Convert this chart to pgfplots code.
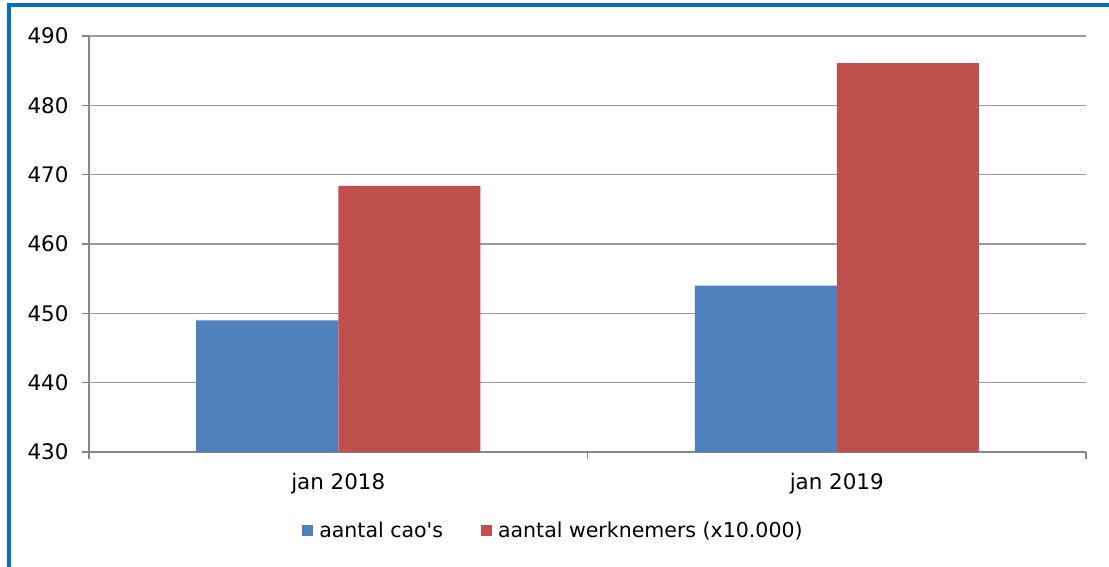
\documentclass[border=0pt]{standalone}
\usepackage{fontspec}
\setmainfont{DejaVu Sans}[Ligatures=TeXOff]
\usepackage{pgfplots}
\pgfplotsset{compat=1.18}
\definecolor{cblue}{HTML}{4F81BD}
\definecolor{cred}{HTML}{C0504D}
\definecolor{framec}{HTML}{0070C0}
\definecolor{gridc}{HTML}{9A9A9A}
\definecolor{axc}{HTML}{868686}
\newcommand{\fs}{\fontsize{21.5}{25}\selectfont}
\newcommand{\fl}{\fontsize{20.6}{24}\selectfont}
\begin{document}
\begin{tikzpicture}
\useasboundingbox (-89bp,-115bp) rectangle (1020bp,452bp);
\draw[framec, line width=4bp, line join=miter] (-80bp,-115bp) -- (-80bp,447bp) -- (1020bp,447bp);
\begin{axis}[
  at={(0,0)}, anchor=south west,
  scale only axis, width=997bp, height=416bp,
  xmin=-0.5, xmax=1.5, ymin=430, ymax=490,
  ybar=0pt, bar width=142bp,
  ytick={430,440,...,490},
  ymajorgrids, grid style={gridc, line width=1.6bp},
  axis x line*=bottom, axis y line*=left,
  axis line style={axc, line width=1.5bp, -},
  tick align=outside, major tick length=7bp,
  tick style={axc, line width=1.5bp},
  xtick={-0.5,0.5,1.5}, xticklabels={},
  extra x ticks={0,1}, extra x tick labels={jan 2018,jan 2019},
  extra x tick style={major tick length=0pt, grid=none},
  tick label style={font=\fs, text=black},
  yticklabel style={xshift=-10bp},
  xticklabel style={yshift=-18bp},
  /pgf/number format/assume math mode=true,
  legend style={at={(0.4654,-0.1875)}, anchor=center, draw=none, fill=none,
    legend columns=2, font=\fl,
    nodes={inner sep=1bp},
    /tikz/every odd column/.append style={column sep=5bp},
    /tikz/every even column/.append style={column sep=37bp}},
  legend image code/.code={\fill[#1] (0bp,-5.5bp) rectangle (11bp,5.5bp);},
]
\addplot[fill=cblue, draw=none] coordinates {(0,449) (1,454)};
\addplot[fill=cred, draw=none] coordinates {(0,468.4) (1,486.1)};
\legend{aantal cao's, aantal werknemers (x10.000)}
\end{axis}
\end{tikzpicture}
\end{document}
